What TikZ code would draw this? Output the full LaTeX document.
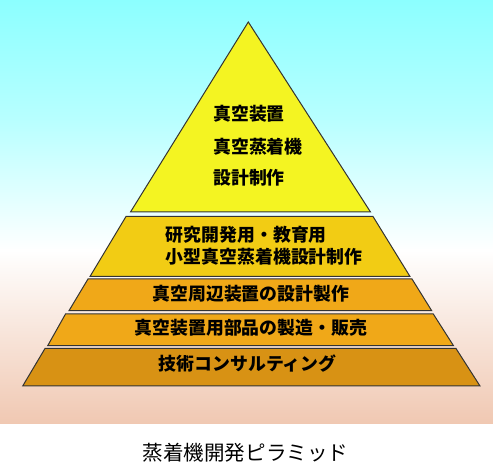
\documentclass[tikz,border=0pt]{standalone}
\usepackage{fontspec}
\newfontfamily\jpfont{Noto Sans CJK JP}
\definecolor{skycyan}{HTML}{8CFFFF}
\definecolor{lightcyan}{HTML}{B8FFFF}
\definecolor{peachback}{HTML}{F0C8B2}
\definecolor{tieryellow}{HTML}{F4F422}
\definecolor{tiergold}{HTML}{F2CC14}
\definecolor{tierorange}{HTML}{F0A818}
\definecolor{tierbrown}{HTML}{D89214}

\begin{document}
\begin{tikzpicture}[
        x=0.75pt, y=-0.75pt,
        tier/.style={draw=black!80, line width=0.75pt, line join=miter},
        tiertext/.style={font=\jpfont\bfseries\fontsize{13.4}{16.5}\selectfont, inner sep=0pt},
        caption/.style={font=\jpfont\fontsize{15.4}{18}\selectfont, inner sep=0pt}
    ]
    \useasboundingbox (0,0) rectangle (493,463);

    % Background
    \shade[top color=skycyan, bottom color=lightcyan] (0,0) rectangle (493,121);
    \shade[top color=lightcyan, bottom color=white] (0,120) rectangle (493,251);
    \shade[top color=white, bottom color=peachback] (0,250) rectangle (493,424);

    % Define pyramid tiers
    \fill[tier, fill=tieryellow] (248.3,22) -- (370.5,212) -- (130.5,212) -- cycle;
    \fill[tier, fill=tiergold] (126,216.5) -- (373,216.5) -- (410,276.5) -- (90,276.5) -- cycle;
    \fill[tier, fill=tierorange] (88,279) -- (412,279) -- (431.7,310.7) -- (69,310.7) -- cycle;
    \fill[tier, fill=tierorange] (65.5,314) -- (433.3,314) -- (453.5,345.7) -- (47.7,345.7) -- cycle;
    \fill[tier, fill=tierbrown] (45,348.5) -- (456,348.5) -- (480,386) -- (22.7,386) -- cycle;

    % Tier texts
    \node[tiertext, anchor=west] (top1) at (213,114) {真空装置};
    \node[tiertext, anchor=west] (top2) at (213,147) {真空蒸着機};
    \node[tiertext, anchor=west] (top3) at (213,178) {設計制作};
    \node[tiertext, anchor=west] (small1) at (165.7,235) {研究開発用・教育用};
    \node[tiertext, anchor=west] (small2) at (165.7,257) {小型真空蒸着機設計制作};
    \node[tiertext] (periph) at (250.8,293.3) {真空周辺装置の設計製作};
    \node[tiertext] (parts) at (250.8,327.7) {真空装置用部品の製造・販売};
    \node[tiertext] (consult) at (247.7,363.3) {技術コンサルティング};

    % Caption
    \node[caption] (title) at (245.5,453) {蒸着機開発ピラミッド};

\end{tikzpicture}
\end{document}
